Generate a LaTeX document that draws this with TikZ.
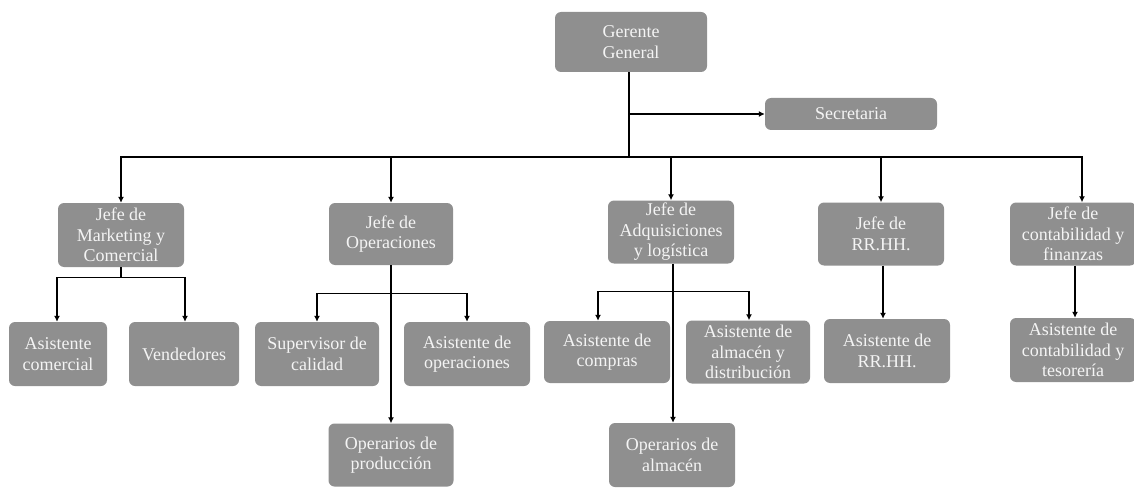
\documentclass[tikz,border=0pt]{standalone}
\usepackage{fontspec}
\setmainfont{Liberation Serif}
\usetikzlibrary{arrows.meta,calc}
\definecolor{boxgray}{RGB}{143,143,143}
\definecolor{boxtext}{RGB}{244,244,244}
\tikzset{
  orgbox/.style={draw=none, fill=boxgray, rounded corners=6pt, text=boxtext,
    align=center, inner sep=0pt, font=\fontsize{18}{20.5}\selectfont},
  arr/.style={draw=black, line width=1.4pt, -{Latex[length=6pt,width=6pt]}},
  ln/.style={draw=black, line width=1.4pt}
}
\begin{document}
\begin{tikzpicture}[x=1pt,y=-1pt]
\useasboundingbox (0,0) rectangle (1134,489);
% level 1
\node[orgbox, minimum width=152pt, minimum height=60pt] (gg) at (631,42) {Gerente\\General};
\node[orgbox, minimum width=172pt, minimum height=32pt] (sec) at (851,114) {Secretaria};
% level 2
\node[orgbox, minimum width=126pt, minimum height=64pt] (mk) at (121,235) {Jefe de\\Marketing y\\Comercial};
\node[orgbox, minimum width=124pt, minimum height=62pt] (op) at (391,234) {Jefe de\\Operaciones};
\node[orgbox, minimum width=126pt, minimum height=63pt] (ad) at (671,232) {Jefe de\\Adquisiciones\\y logística};
\node[orgbox, minimum width=126pt, minimum height=63pt] (rh) at (881,234) {Jefe de\\RR.HH.};
\node[orgbox, minimum width=126pt, minimum height=63pt] (co) at (1073,234) {Jefe de\\contabilidad y\\finanzas};
% level 3
\node[orgbox, minimum width=98pt, minimum height=64pt] (ac) at (58,354) {Asistente\\comercial};
\node[orgbox, minimum width=110pt, minimum height=64pt] (ve) at (184,354) {Vendedores};
\node[orgbox, minimum width=124pt, minimum height=64pt] (sc) at (317,354) {Supervisor de\\calidad};
\node[orgbox, minimum width=126pt, minimum height=64pt] (ao) at (467,354) {Asistente de\\operaciones};
\node[orgbox, minimum width=125pt, minimum height=63pt] (opp) at (391,455) {Operarios de\\producción};
\node[orgbox, minimum width=126pt, minimum height=62pt] (acp) at (607,352) {Asistente de\\compras};
\node[orgbox, minimum width=124pt, minimum height=63pt] (aad) at (748,352) {Asistente de\\almacén y\\distribución};
\node[orgbox, minimum width=126pt, minimum height=64pt] (opa) at (672,455) {Operarios de\\almacén};
\node[orgbox, minimum width=126pt, minimum height=64pt] (arh) at (887,351) {Asistente de\\RR.HH.};
\node[orgbox, minimum width=126pt, minimum height=64pt] (act) at (1073,350) {Asistente de\\contabilidad y\\tesorería};
% connectors
\path (gg.south) ++(-2,85) coordinate (busj);
\path (gg.south) ++(-2,0) coordinate (ggs);
\draw[ln] (ggs) -- (busj);
\draw[arr] (ggs |- sec.west) -- (sec.west);
\draw[arr] (busj) -| (mk.north);
\draw[arr] (busj) -| (op.north);
\draw[arr] (busj) -| (ad.north);
\draw[arr] (busj) -| (rh.north);
\draw[arr] (busj) -| ([xshift=9pt]co.north);
% marketing
\path (mk.south) ++(0,10) coordinate (mkj);
\draw[ln] (mk.south) -- (mkj);
\draw[arr] (mkj) -| ([xshift=-1pt]ac.north);
\draw[arr] (mkj) -| ([xshift=1pt]ve.north);
% operaciones
\path (op.south) ++(0,28) coordinate (opj);
\draw[arr] (op.south) -- (opp.north);
\draw[arr] (opj) -| (sc.north);
\draw[arr] (opj) -| (ao.north);
% adquisiciones
\path (ad.south) ++(2,28) coordinate (adj);
\path (ad.south) ++(2,0) coordinate (ads);
\draw[arr] (ads) -- (ads |- opa.north);
\draw[arr] (adj) -| ([xshift=-9pt]acp.north);
\draw[arr] (adj) -| ([xshift=1pt]aad.north);
% rrhh
\path (rh.south) ++(2,0) coordinate (rhs);
\draw[arr] (rhs) -- (rhs |- arh.north);
% contabilidad
\path (co.south) ++(2,0) coordinate (cos);
\draw[arr] (cos) -- (cos |- act.north);
\end{tikzpicture}
\end{document}
